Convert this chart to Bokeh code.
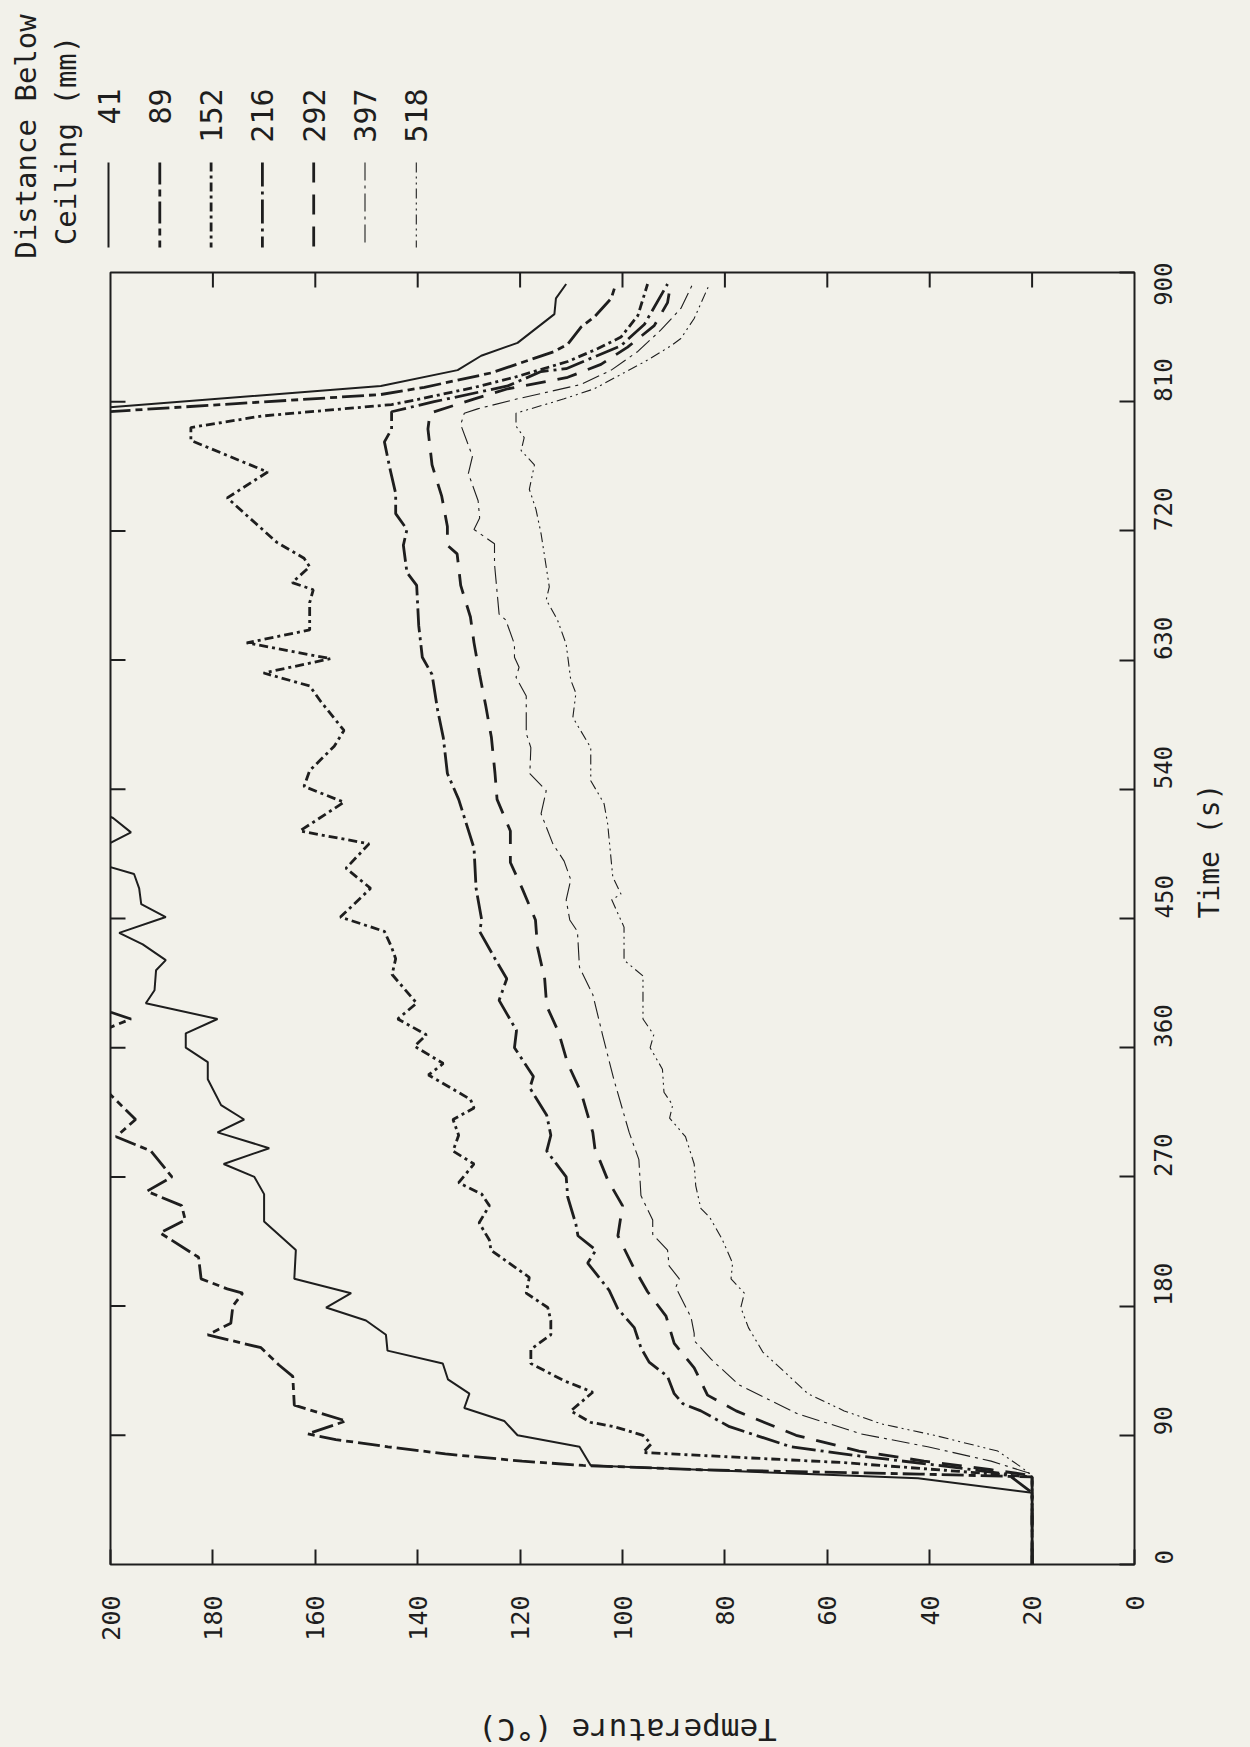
import math
from bokeh.plotting import figure
from bokeh.models import Range1d, LinearAxis, FixedTicker
from bokeh.embed import file_html
from bokeh.resources import INLINE
from bokeh.core.properties import value

# ---------------- data (time s, temperature C) ----------------
distances = ["41", "89", "152", "216", "292", "397", "518"]
temp_ticks = [0, 20, 40, 60, 80, 100, 120, 140, 160, 180, 200]
time_ticks = [0, 90, 180, 270, 360, 450, 540, 630, 720, 810, 900]

s41 = [(0, 20), (50, 20), (60, 42.3), (69, 106.2), (82, 108.4), (90, 120.5), (100, 123.1),
       (109, 130.9), (119, 129.9), (129, 134.1), (140, 135.1), (149, 145.9), (160, 146.2),
       (170, 150.1), (179, 157.9), (189, 153), (199, 164.1), (219, 163.8), (239, 170),
       (258, 170), (270, 171.9), (279, 177.9), (290, 169), (301, 179.1), (310, 173.9),
       (320, 178.4), (338, 181), (350, 181), (360, 185.3), (370, 185.3), (380, 179.1),
       (391, 193.1), (400, 191.4), (414, 191.1), (421, 189.2), (432, 193.7), (440, 198.3),
       (451, 189.2), (460, 194), (471, 194.4), (481, 195.4), (490, 204), (500, 201.5),
       (510, 196), (520, 199.5), (530, 206), (650, 215), (800, 222), (821, 147.2),
       (832, 132.2), (842, 127.6), (851, 120.5), (871, 113.3), (882, 113), (892, 111)]

s89 = [(0, 20), (50, 20), (61, 20), (63, 42), (66, 84.7), (69, 107.7), (72, 119.6),
       (77, 134.6), (82, 145.8), (87, 156), (91, 161.5), (100, 154), (111, 164.1),
       (131, 164.4), (139, 167.1), (151, 170.6), (160, 181), (168, 176.5), (180, 176.1),
       (189, 174.2), (192, 177.2), (199, 182.3), (214, 182.8), (231, 190.3), (240, 185.4),
       (250, 186.1), (260, 192.9), (270, 188), (288, 192.1), (298, 198.9), (310, 195.1),
       (329, 200.5), (350, 206), (374, 200.2), (380, 196), (386, 201), (500, 212),
       (650, 215), (800, 214), (815, 147.2), (820, 138.7), (830, 125.7), (845, 113.3),
       (850, 110.7), (862, 108.1), (869, 105.5), (882, 102.2), (892, 101.3)]

s152 = [(0, 20), (50, 20), (61, 20), (71, 57), (78, 96), (84, 94.4), (90, 96),
        (96, 101.6), (99, 106.2), (107, 110.1), (120, 105.8), (128, 111.4), (140, 117.9),
        (150, 117.9), (160, 114), (170, 114), (179, 114.6), (189, 118.8), (200, 118.2),
        (219, 125.7), (226, 126), (238, 128), (250, 126), (258, 127.5), (266, 132),
        (279, 129), (288, 133.1), (299, 132), (310, 133.1), (318, 129), (324, 129.7),
        (341, 137.9), (349, 135), (361, 140.6), (369, 138.3), (380, 143.9), (391, 140.2),
        (411, 145), (422, 144.3), (430, 145.1), (441, 146.5), (451, 155.1), (471, 149.2),
        (485, 154), (502, 149.5), (511, 163), (531, 154.4), (542, 162.2), (553, 161.1),
        (570, 156.3), (581, 154.4), (601, 158.9), (612, 161.1), (621, 170.1), (631, 157),
        (642, 173.4), (651, 161.1), (670, 161.1), (679, 160.4), (684, 164.5), (695, 161.1),
        (701, 162.2), (712, 167.5), (743, 177.2), (761, 169.3), (783, 184.3), (792, 184.3),
        (800, 170.5), (808, 145.1), (812, 139.4), (820, 128.9), (827, 121.1), (838, 110.7),
        (847, 104.8), (855, 100.3), (870, 97), (892, 95.1)]

s216 = [(0, 20), (50, 20), (63, 24.8), (70, 40.4), (76, 54.7), (82, 67.1), (96, 79.1),
        (107, 84.7), (112, 88.2), (119, 89.9), (131, 91.2), (141, 94.8), (151, 96.4),
        (165, 97.7), (178, 100.9), (191, 102.6), (210, 106.8), (219, 105.2), (229, 108.7),
        (237, 109.1), (256, 110.7), (270, 111), (288, 114.8), (299, 114), (313, 114.8),
        (332, 118.1), (340, 117.4), (360, 121.1), (372, 120.7), (393, 124.1), (408, 122.6),
        (422, 124.9), (441, 127.9), (449, 127.5), (471, 128.6), (499, 129), (533, 132),
        (551, 134.2), (576, 135), (595, 136.1), (620, 137.2), (632, 139.1), (654, 139.8),
        (682, 140.2), (691, 142.1), (710, 142.8), (721, 142.1), (732, 144.3), (746, 144.3),
        (763, 145.4), (782, 146.5), (791, 145.1), (803, 145.1), (810, 136.8), (821, 122.4),
        (831, 115.9), (833, 111), (849, 100.3), (864, 95.7), (892, 91.2)]

s292 = [(0, 20), (50, 20), (62, 20), (66, 28), (72, 41.1), (79, 53.8), (90, 66.1),
        (107, 77.8), (118, 83.4), (137, 86), (154, 89.9), (173, 91.5), (190, 95.1),
        (208, 98), (229, 100.9), (250, 100), (268, 102.9), (290, 105.4), (301, 105.8),
        (329, 108.1), (349, 110.7), (371, 112.5), (389, 114.8), (408, 115.2), (430, 116.6),
        (449, 117), (471, 119.6), (489, 121.9), (511, 121.9), (533, 124.5), (551, 124.9),
        (576, 125.6), (598, 126.7), (620, 127.9), (642, 129), (660, 129.7), (682, 131.6),
        (704, 132.3), (710, 134.2), (723, 134.2), (744, 135.3), (766, 137.2), (791, 138),
        (802, 137.6), (812, 128.9), (819, 122.4), (827, 110.7), (836, 104.2), (848, 99),
        (863, 93.8), (879, 91.2), (892, 90.6)]

s397 = [(0, 20), (50, 20), (63, 20), (72, 28), (82, 40.4), (91, 53.4), (105, 65.8),
        (125, 77.2), (143, 82.7), (156, 86), (161, 86), (172, 86.6), (193, 89.6), (199, 88.9),
        (208, 90.9), (219, 91.2), (230, 94.1), (240, 94.1), (257, 96.4), (282, 96.8),
        (301, 98.7), (338, 101.7), (369, 103.9), (397, 105.8), (416, 108.4), (441, 108.8),
        (449, 110.3), (463, 111), (477, 110.1), (490, 111.4), (502, 113.6), (523, 115.9),
        (539, 114.9), (551, 118.1), (569, 117.9), (579, 118.8), (605, 118.8), (618, 120.8),
        (625, 120.2), (632, 121.1), (641, 121.1), (658, 122.8), (662, 124.1), (697, 125),
        (711, 125), (721, 129), (729, 127.9), (741, 128.2), (760, 130.1), (772, 129.3),
        (794, 131.6), (802, 130.9), (805, 128.3), (812, 120.5), (822, 108.1), (832, 102.2),
        (845, 97), (860, 92.5), (875, 88.6), (892, 86.3)]

s518 = [(0, 20), (50, 20), (62, 20), (68, 22.2), (79, 26.7), (90, 39.1), (98, 49.5),
        (107, 56.7), (119, 63.8), (132, 67.7), (148, 72.6), (165, 75.4), (179, 76.9),
        (189, 76.2), (199, 78.8), (210, 78.5), (227, 80.6), (242, 83), (248, 84.7),
        (264, 85.7), (279, 86), (298, 87.7), (311, 90.8), (320, 90.2), (329, 91.9),
        (345, 92.2), (360, 94.6), (369, 93.9), (380, 96), (410, 96), (421, 99.7), (444, 99.7),
        (463, 102.1), (467, 100.3), (479, 101.9), (516, 102.9), (530, 103.6), (546, 106.2),
        (569, 106.2), (590, 109.7), (607, 109.1), (616, 110.1), (641, 111), (658, 112.7),
        (672, 114.9), (681, 114.3), (695, 114.9), (718, 115.9), (735, 116.9), (749, 118.2),
        (766, 117.2), (776, 119.8), (785, 119.2), (793, 120.8), (802, 120.8), (812, 111.4),
        (819, 105.5), (829, 100.3), (839, 95.1), (849, 90.5), (854, 88.6), (868, 86),
        (892, 83)]

series = {"41": s41, "89": s89, "152": s152, "216": s216, "292": s292, "397": s397, "518": s518}

# ---------------- styles ----------------
BG = "#f2f1ea"
INK = "#1e1e1e"
FONT = "DejaVu Sans Mono"
styles = {
    "41": dict(line_width=2.0, line_dash="solid"),
    "89": dict(line_width=2.8, line_dash="22 5 7 5"),
    "152": dict(line_width=2.8, line_dash="9 4 3 4"),
    "216": dict(line_width=2.8, line_dash="24 5 3 5"),
    "292": dict(line_width=2.8, line_dash="20 12"),
    "397": dict(line_width=1.1, line_dash="18 5 3 5"),
    "518": dict(line_width=1.1, line_dash="10 4 2 4 2 4"),
}

T_MIN, T_MAX = 0, 200
S_MIN, S_MAX = 0, 900
FRAME_W, FRAME_H = 1024, 1292
TICK_PX = 15
PAGE_W = 1250
LEG_H = 262          # legend strip above the plot
MAIN_H = 1402        # plot with tick labels
FOOT_H = 1747 - LEG_H - MAIN_H   # strip holding the upside-down temperature title

# ---------------- main plot ----------------
p = figure(width=PAGE_W, height=MAIN_H, x_range=Range1d(T_MAX, T_MIN), y_range=Range1d(S_MIN, S_MAX),
           output_backend="svg", toolbar_location=None,
           x_axis_location=None, y_axis_location=None,
           min_border_left=110, min_border_right=116, min_border_top=10,
           min_border_bottom=MAIN_H - 10 - FRAME_H,
           background_fill_color=BG, border_fill_color=BG)
p.grid.grid_line_color = None
p.outline_line_color = INK
p.outline_line_width = 2


def make_axis(ticks, font_size, standoff):
    return LinearAxis(ticker=FixedTicker(ticks=ticks), major_tick_in=TICK_PX, major_tick_out=0,
                      minor_tick_line_color=None, axis_line_color=None,
                      major_tick_line_color=INK, major_tick_line_width=2,
                      major_label_orientation=math.pi / 2,
                      major_label_text_font=FONT, major_label_text_font_size=font_size,
                      major_label_text_color=INK, major_label_standoff=standoff)


xax = make_axis(temp_ticks, "25px", 31)
p.add_layout(xax, "below")

yax = make_axis(time_ticks, "24px", 29)
yax.axis_label = "Time (s)"
yax.axis_label_text_font = FONT
yax.axis_label_text_font_size = "28px"
yax.axis_label_text_font_style = "normal"
yax.axis_label_text_color = INK
yax.axis_label_standoff = 25
try:
    yax.axis_label_orientation = math.pi / 2
except Exception:
    pass
p.add_layout(yax, "right")

# inward ticks on the top and left frame edges
top_len = TICK_PX * (S_MAX - S_MIN) / FRAME_H
left_len = TICK_PX * (T_MAX - T_MIN) / FRAME_W
tt = temp_ticks[1:-1]
p.segment(x0=tt, y0=[S_MAX] * len(tt), x1=tt, y1=[S_MAX - top_len] * len(tt),
          line_color=INK, line_width=2)
st = time_ticks[1:-1]
p.segment(x0=[T_MAX] * len(st), y0=st, x1=[T_MAX - left_len] * len(st), y1=st,
          line_color=INK, line_width=2)

for d in distances:
    pts = series[d]
    ts = [a for a, b in pts]
    temps = [b for a, b in pts]
    p.line(temps, ts, line_color=INK, **styles[d])

# ---------------- legend strip (above the plot, rotated) ----------------
leg = figure(width=PAGE_W, height=LEG_H, x_range=Range1d(0, PAGE_W), y_range=Range1d(LEG_H, 0),
             output_backend="svg", toolbar_location=None,
             x_axis_location=None, y_axis_location=None, min_border=0,
             background_fill_color=BG, border_fill_color=BG, outline_line_color=None)
leg.grid.grid_line_color = None

leg_x0 = 108
leg_dx = 51.3
for i, d in enumerate(distances):
    lx = leg_x0 + i * leg_dx
    leg.segment(x0=[lx], y0=[162], x1=[lx], y1=[247], line_color=INK, **styles[d])
    leg.text(x=[lx], y=[88], text=[d], angle=math.pi / 2, text_align="right",
             text_baseline="middle", text_font=value(FONT), text_font_size="30px",
             text_color=INK)

leg.text(x=[25, 65], y=[136, 140], text=["Distance Below", "Ceiling (mm)"],
         angle=math.pi / 2, text_align="center", text_baseline="middle",
         text_font=value(FONT), text_font_size="29px", text_color=INK)

# ---------------- foot strip: upside-down temperature title ----------------
foot = figure(width=PAGE_W, height=FOOT_H, x_range=Range1d(0, PAGE_W), y_range=Range1d(FOOT_H, 0),
              output_backend="svg", toolbar_location=None,
              x_axis_location=None, y_axis_location=None, min_border=0,
              background_fill_color=BG, border_fill_color=BG, outline_line_color=None)
foot.grid.grid_line_color = None
foot.text(x=[627], y=[1729 - LEG_H - MAIN_H], text=["Temperature (\u00b0C)"], angle=math.pi,
          text_align="center", text_baseline="middle", text_font=value(FONT),
          text_font_size="31px", text_color=INK)

TEMPLATE = "{% block preamble %}<style>html, body { background-color: " + BG + "; margin: 0; padding: 0; }</style>{% endblock %}"
open("out.html", "w").write(file_html([leg, p, foot], INLINE, template=TEMPLATE))
